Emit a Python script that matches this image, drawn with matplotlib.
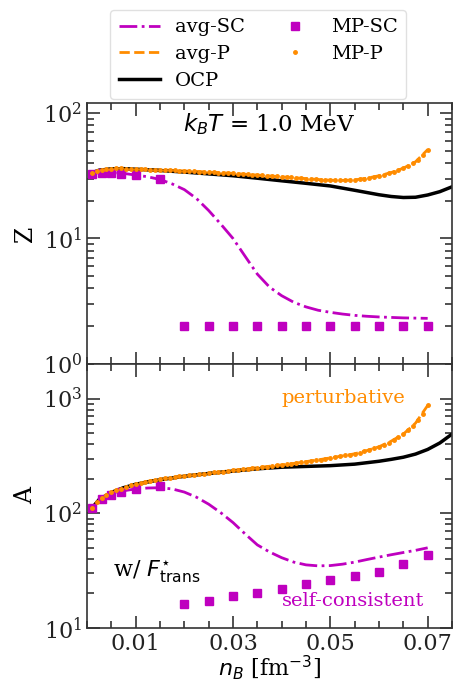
import numpy as np
import matplotlib
matplotlib.use("Agg")
import matplotlib.pyplot as plt
from matplotlib.ticker import FixedLocator, MultipleLocator, LogLocator, NullFormatter
from matplotlib.lines import Line2D

plt.rcParams['font.family'] = 'serif'
plt.rcParams['font.serif'] = ['DejaVu Serif']
plt.rcParams['mathtext.fontset'] = 'dejavusans'

# grids
nB_avg = [0.001, 0.0025, 0.005, 0.0075, 0.01, 0.0125, 0.015, 0.0175, 0.02, 0.0225,
          0.025, 0.0275, 0.03, 0.0325, 0.035, 0.0375, 0.04, 0.0425, 0.045, 0.0475,
          0.05, 0.0525, 0.055, 0.0575, 0.06, 0.0625, 0.065, 0.0675, 0.07]
nB_ocp = [0.001, 0.0025, 0.005, 0.0075, 0.01, 0.015, 0.02, 0.025, 0.03, 0.035,
          0.04, 0.045, 0.05, 0.055, 0.06, 0.0625, 0.065, 0.0675, 0.07, 0.0725, 0.075]
nB_mpsc = [0.001, 0.003, 0.005, 0.007, 0.01, 0.015, 0.02, 0.025, 0.03, 0.035,
           0.04, 0.045, 0.05, 0.055, 0.06, 0.065, 0.07]
nB_mpp = np.round(np.arange(1, 71) * 0.001, 3)

# Z panel
Z_avgSC = [32.5, 33.5, 33.5, 33.0, 32.0, 31.0, 29.5, 27.2, 24.5, 20.8,
           16.7, 13.0, 10.0, 7.2, 5.2, 4.1, 3.5, 3.1, 2.85, 2.68,
           2.58, 2.5, 2.44, 2.4, 2.37, 2.35, 2.33, 2.32, 2.31]
Z_avgP = [33.5, 35.0, 36.0, 36.1, 35.7, 35.5, 35.2, 34.9, 34.5, 34.2,
          33.8, 33.4, 33.0, 32.5, 32.0, 31.5, 31.0, 30.5, 30.0, 29.5,
          29.1, 29.0, 29.3, 30.2, 31.6, 33.5, 36.3, 40.8, 51.0]
Z_ocp = [33.4, 35.0, 35.8, 36.0, 35.6, 34.8, 33.8, 32.7, 31.6, 30.2,
         28.8, 27.5, 26.2, 24.2, 22.3, 21.6, 21.2, 21.3, 22.2, 23.6, 25.8]
Z_mpsc = [32.6, 33.0, 33.0, 32.8, 31.8, 30.0, 2, 2, 2, 2, 2, 2, 2, 2, 2, 2, 2]
Z_mpp = [33.5, 34.5, 35.2, 35.7, 36.0, 36.1, 36.1, 36.0, 35.9, 35.7,
         35.6, 35.5, 35.4, 35.3, 35.2, 35.1, 35.0, 34.8, 34.7, 34.5,
         34.4, 34.2, 34.1, 33.9, 33.8, 33.6, 33.5, 33.3, 33.2, 33.0,
         32.8, 32.6, 32.4, 32.2, 32.0, 31.8, 31.6, 31.4, 31.2, 31.0,
         30.8, 30.6, 30.4, 30.2, 30.0, 29.8, 29.6, 29.4, 29.2, 29.1,
         29.0, 29.0, 29.0, 29.1, 29.3, 29.6, 30.0, 30.5, 31.0, 31.6,
         32.3, 33.1, 34.0, 35.0, 36.3, 37.8, 39.7, 42.3, 46.0, 51.0]

# A panel
A_avgSC = [112, 132, 148, 157, 163, 166, 167, 163, 153, 138,
           120, 101, 83, 66, 53, 46, 41, 37.5, 35.5, 34.8,
           35, 36, 37.5, 39.5, 41.5, 43.5, 45.5, 47.5, 50]
A_avgP = [112, 132, 152, 167, 180, 190, 198, 205, 212, 218,
          224, 230, 237, 243, 250, 257, 264, 272, 282, 292,
          304, 316, 330, 352, 380, 425, 490, 610, 870]
A_ocp = [110, 132, 152, 167, 179, 196, 210, 222, 233, 244,
         252, 256, 260, 268, 284, 295, 308, 328, 360, 410, 490]
A_mpsc = [112, 132, 145, 152, 162, 172, 16.2, 17.3, 19.1, 20.2,
          22.0, 24.3, 26.4, 28.3, 31.0, 36.0, 43.5]
A_mpp = [112, 125, 136, 145, 152, 158, 164, 169, 175, 180,
         184, 188, 192, 195, 198, 201, 204, 207, 210, 212,
         215, 217, 220, 222, 224, 227, 229, 231, 234, 237,
         239, 242, 244, 247, 250, 252, 255, 258, 261, 264,
         267, 271, 274, 278, 282, 286, 290, 294, 299, 304,
         309, 314, 319, 324, 330, 338, 347, 357, 368, 380,
         395, 413, 434, 460, 490, 530, 580, 645, 740, 870]

MAG = '#bf00bf'
ORA = 'darkorange'

fig = plt.figure(figsize=(4.54, 6.87), dpi=100)
ax1 = fig.add_axes([87/454, 1-364/687, (452-87)/454, (364-103)/687])
ax2 = fig.add_axes([87/454, 1-628/687, (452-87)/454, (628-364)/687], sharex=ax1)


def draw(ax, y_sc, y_p, y_ocp, y_mpsc, y_mpp):
    ax.plot(nB_avg, y_sc, color=MAG, ls='-.', lw=2)
    ax.plot(nB_avg, y_p, color=ORA, ls='--', lw=2)
    ax.plot(nB_ocp, y_ocp, color='black', ls='-', lw=2.5)
    ax.plot(nB_mpsc, y_mpsc, 's', color=MAG, ms=5.5, ls='none')
    ax.plot(nB_mpp, y_mpp, '.', color=ORA, ms=5, ls='none')
    ax.set_yscale('log')
    ax.set_xlim(0, 0.075)
    ax.xaxis.set_major_locator(FixedLocator([0.01, 0.03, 0.05, 0.07]))
    ax.xaxis.set_minor_locator(MultipleLocator(0.005))
    ax.yaxis.set_minor_locator(LogLocator(base=10, subs=np.arange(2, 10)))
    ax.yaxis.set_minor_formatter(NullFormatter())
    ax.tick_params(which='both', direction='in', top=True, right=True,
                   labelsize=16, width=1.2, color='#333333', labelcolor='#222222')
    ax.tick_params(which='major', length=9)
    ax.tick_params(which='minor', length=5)
    for s in ax.spines.values():
        s.set_color('#333333')
        s.set_linewidth(1.2)


draw(ax1, Z_avgSC, Z_avgP, Z_ocp, Z_mpsc, Z_mpp)
draw(ax2, A_avgSC, A_avgP, A_ocp, A_mpsc, A_mpp)

ax1.set_ylim(1, 120)
ax2.set_ylim(10, 2000)
ax1.tick_params(labelbottom=False)
ax1.set_ylabel('Z', fontsize=17)
ax2.set_ylabel('A', fontsize=17)
ax2.set_xticklabels(['0.01', '0.03', '0.05', '0.07'])
ax2.set_xlabel(r'$n_B$ [fm$^{-3}$]', fontsize=16, labelpad=-1)

ax1.text(0.5, 0.92, r'$k_BT$ = 1.0 MeV', transform=ax1.transAxes,
         ha='center', va='center', fontsize=16.5)
ax2.text(0.703, 0.87, 'perturbative', transform=ax2.transAxes,
         ha='center', va='center', fontsize=14, color=ORA)
ax2.text(0.730, 0.103, 'self-consistent', transform=ax2.transAxes,
         ha='center', va='center', fontsize=14, color=MAG)
ax2.text(0.07, 0.215, r'w/ $F^{\star}_{\rm trans}$', transform=ax2.transAxes,
         ha='left', va='center', fontsize=16)

handles = [Line2D([], [], color=MAG, ls='-.', lw=2),
           Line2D([], [], color=ORA, ls='--', lw=2),
           Line2D([], [], color='black', lw=2.5),
           Line2D([], [], color=MAG, marker='s', ls='none', ms=5.5),
           Line2D([], [], color=ORA, marker='.', ls='none', ms=5)]
labels = ['avg-SC', 'avg-P', 'OCP', 'MP-SC', 'MP-P']
fig.legend(handles, labels, loc='upper center', bbox_to_anchor=(258/454, 1.0),
           ncol=2, fontsize=14, frameon=True, edgecolor='0.85',
           handlelength=2.1, columnspacing=1.5, labelspacing=0.45, borderpad=0.45)

fig.savefig('out.png', dpi=100)
